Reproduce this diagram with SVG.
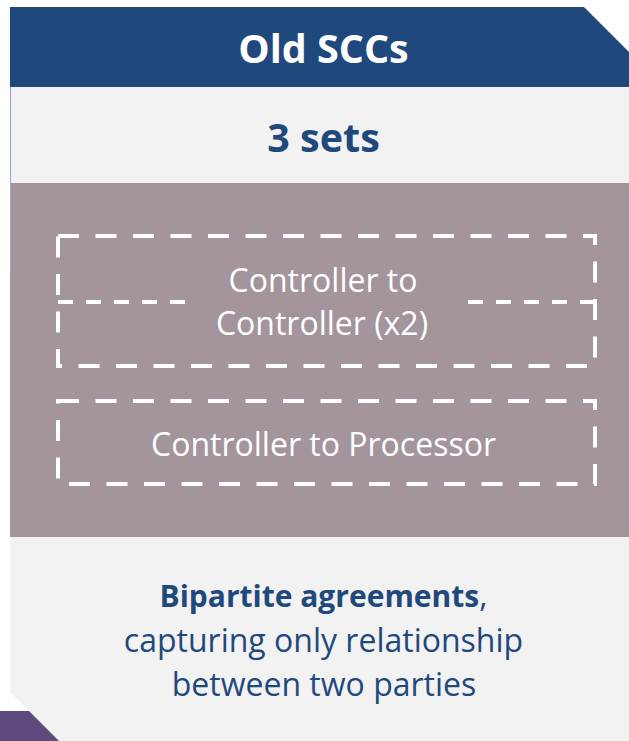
<svg xmlns="http://www.w3.org/2000/svg" width="629" height="741" viewBox="0 0 629 741">
  <style>
    .title { font-family: "Open Sans", "Liberation Sans", sans-serif; font-weight: 700; text-anchor: middle; }
    .label { font-family: "Open Sans", "Liberation Sans", sans-serif; font-size: 32px; fill: #ffffff; text-anchor: middle; }
    .note { font-family: "Open Sans", "Liberation Sans", sans-serif; font-size: 32px; fill: #1F497D; text-anchor: middle; }
    .dash { fill: none; stroke: #ffffff; stroke-width: 4; stroke-dasharray: 21 16.5; }
    .dash-fine { fill: none; stroke: #ffffff; stroke-width: 4; stroke-dasharray: 15 13; }
  </style>

  <rect width="629" height="741" fill="#ffffff"/>

  <!-- neighbouring card peeking in at the bottom-left -->
  <polygon points="0,711 30,711 60,741 0,741" fill="#5E4A7D"/>

  <!-- card body with chamfered bottom-left corner -->
  <polygon points="10,87 629,87 629,741 59,741 10,692" fill="#F2F2F2"/>
  <rect x="10" y="183" width="619" height="354" fill="#A4959D"/>
  <line x1="10.5" y1="87" x2="10.5" y2="272" stroke="#8FA8D6" stroke-width="1"/>

  <!-- header band with chamfered top-right corner -->
  <g id="header">
    <polygon points="10,7 584,7 629,52 629,87 10,87" fill="#1F497D"/>
    <text class="title" x="323.5" y="63" font-size="39.5" fill="#ffffff">Old SCCs</text>
  </g>

  <g id="count">
    <text class="title" x="323.5" y="152" font-size="39.5" fill="#1F497D">3 sets</text>
  </g>

  <g id="controller-controller">
    <rect class="dash" x="58" y="236" width="537" height="130"/>
    <line class="dash-fine" x1="58" y1="302" x2="186" y2="302"/>
    <line class="dash-fine" x1="468" y1="302" x2="595" y2="302"/>
    <text class="label" x="323" y="292">Controller to</text>
    <text class="label" x="322" y="335">Controller (x2)</text>
  </g>

  <g id="controller-processor">
    <rect class="dash" x="58" y="401" width="537" height="83"/>
    <text class="label" x="323.5" y="456">Controller to Processor</text>
  </g>

  <g id="summary">
    <text class="note" x="323.5" y="607"><tspan font-weight="700" font-size="30">Bipartite agreements</tspan>,</text>
    <text class="note" x="323.5" y="652">capturing only relationship</text>
    <text class="note" x="324" y="696" font-size="32.5">between two parties</text>
  </g>

  <g id="connectors"/>
</svg>
